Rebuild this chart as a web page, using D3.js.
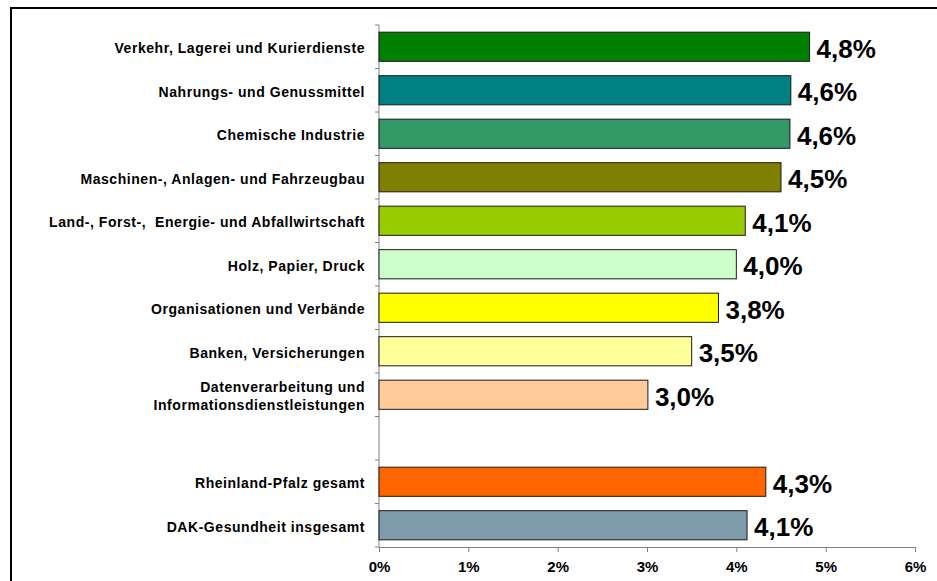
<!DOCTYPE html>
<html lang="de">
<head>
  <meta charset="UTF-8">
  <title>Krankenstand nach Branchen</title>
  <script src="https://d3js.org/d3.v7.min.js"></script>
  <style>
    body { margin: 0; padding: 0; background: #fff; }
    svg { display: block; font-family: "Liberation Sans", Arial, sans-serif; }
    .cat { font-size: 14px; font-weight: bold; fill: #000; letter-spacing: 0.55px; white-space: pre; }
    .val { font-size: 26px; font-weight: bold; fill: #000; }
    .axis text { font-size: 15px; font-weight: bold; fill: #000; font-family: "Liberation Sans", Arial, sans-serif; }
    .axis path, .axis line { stroke: #808080; }
  </style>
</head>
<body>
<div id="chart"></div>
<script>
  // branches, top to bottom
  const categories = [
    "Verkehr, Lagerei und Kurierdienste",
    "Nahrungs- und Genussmittel",
    "Chemische Industrie",
    "Maschinen-, Anlagen- und Fahrzeugbau",
    "Land-, Forst-,  Energie- und Abfallwirtschaft",
    "Holz, Papier, Druck",
    "Organisationen und Verbände",
    "Banken, Versicherungen",
    "Datenverarbeitung und\nInformationsdienstleistungen",
    "Rheinland-Pfalz gesamt",
    "DAK-Gesundheit insgesamt"
  ];
  const values = [4.82, 4.61, 4.6, 4.5, 4.1, 4.0, 3.8, 3.5, 3.01, 4.33, 4.12];
  const colors = ["#008000", "#008080", "#339966", "#808000", "#99CC00", "#CCFFCC",
                  "#FFFF00", "#FFFF99", "#FFCC99", "#FF6600", "#7F9CAD"];
  const xTicks = [0, 1, 2, 3, 4, 5, 6];
  // empty slot between branches and totals
  const gapAfter = 8;

  const W = 937, H = 581;
  const svg = d3.select("#chart").append("svg")
    .attr("width", W).attr("height", H);

  // frame (top and left edge visible)
  svg.append("path")
    .attr("d", `M11,${H} V8 H${W}`)
    .attr("fill", "none")
    .attr("stroke", "#000")
    .attr("stroke-width", 2);

  const domain = categories.slice(0, gapAfter + 1)
    .concat(["__gap"], categories.slice(gapAfter + 1));

  const x = d3.scaleLinear().domain([0, 6]).range([379, 915]);
  const y = d3.scaleBand().domain(domain).range([25, 547])
    .paddingInner(0.33).paddingOuter(0.165);

  // x axis
  const xAxis = svg.append("g")
    .attr("class", "axis")
    .attr("transform", "translate(0,547)")
    .call(d3.axisBottom(x).tickValues(xTicks).tickSizeOuter(0).tickSize(5)
      .tickFormat(d => d + "%"));
  xAxis.selectAll("text").attr("y", 20).attr("dy", "0.35em");

  // y axis: line with ticks at slot borders
  const step = y.step();
  const yBorders = d3.range(domain.length + 1).map(i => 25 + i * step);
  svg.append("line")
    .attr("x1", x(0)).attr("x2", x(0))
    .attr("y1", 25).attr("y2", 547)
    .attr("stroke", "#808080");
  svg.append("g").selectAll("line")
    .data(yBorders)
    .enter().append("line")
      .attr("x1", x(0) - 4).attr("x2", x(0))
      .attr("y1", d => d).attr("y2", d => d)
      .attr("stroke", "#808080");

  const rows = categories.map((c, i) => ({ name: c, value: values[i], color: colors[i] }));

  // bars
  svg.append("g").selectAll("rect")
    .data(rows)
    .enter().append("rect")
      .attr("x", x(0))
      .attr("y", d => y(d.name))
      .attr("width", d => x(d.value) - x(0))
      .attr("height", y.bandwidth())
      .attr("fill", d => d.color)
      .attr("stroke", "#1a1a1a")
      .attr("stroke-width", 1);

  // value labels
  const fmt = v => d3.format(".1f")(v).replace(".", ",") + "%";
  svg.append("g").selectAll("text")
    .data(rows)
    .enter().append("text")
      .attr("class", "val")
      .attr("x", d => x(d.value) + 7)
      .attr("y", d => y(d.name) + y.bandwidth() / 2)
      .attr("dy", "0.42em")
      .text(d => fmt(d.value));

  // category labels
  const cat = svg.append("g").selectAll("text")
    .data(rows)
    .enter().append("text")
      .attr("class", "cat")
      .attr("text-anchor", "end")
      .attr("x", 365)
      .attr("y", d => y(d.name) + y.bandwidth() / 2);
  cat.each(function(d) {
    const lines = d.name.split("\n");
    const t = d3.select(this);
    lines.forEach((ln, j) => {
      t.append("tspan")
        .attr("x", 365)
        .attr("dy", j === 0 ? (0.45 - (lines.length - 1) * 0.62) + "em" : "1.24em")
        .text(ln);
    });
  });
</script>
</body>
</html>
